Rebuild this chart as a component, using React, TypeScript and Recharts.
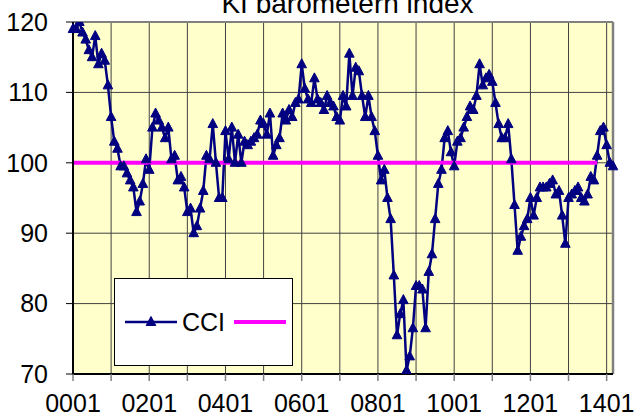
import React from 'react';
import {
  LineChart,
  Line,
  XAxis,
  YAxis,
  CartesianGrid,
  Legend,
  ReferenceLine,
} from 'recharts';

// CCI monthly values, one array per year
const CCI_2000 = [119, 119, 120, 118.5, 117.5, 116, 115, 118, 114, 115.5, 114.5, 111];
const CCI_2001 = [106.5, 103, 102, 99.5, 99.5, 98.5, 97.5, 96.5, 93, 94.5, 97, 100.5];
const CCI_2002 = [99, 105, 107, 106, 105, 103.5, 105, 100.5, 101, 97.5, 98, 96.5];
const CCI_2003 = [93, 93.5, 90, 91, 93.5, 96, 101, 100.5, 105.5, 100, 95, 95];
const CCI_2004 = [104.5, 100.5, 105, 100, 104, 100, 103, 102.5, 103, 103.5, 104, 106];
const CCI_2005 = [105.5, 104, 107, 101, 102.5, 103.5, 107, 106, 107.5, 106.5, 108.5, 109];
const CCI_2006 = [114, 110.5, 109, 108.5, 112, 109, 108.5, 107.5, 109.5, 108.5, 108, 106.5];
const CCI_2007 = [106, 109.5, 108, 115.5, 109.5, 113.5, 113, 109.5, 106.5, 109.5, 106.5, 104.5];
const CCI_2008 = [101, 97.5, 99, 95, 92, 84, 75.5, 78.5, 80.5, 70.5, 72.5, 76.5];
const CCI_2009 = [82.5, 82.5, 82, 76.5, 84.5, 87, 92, 97, 99, 103.5, 104.5, 101.5];
const CCI_2010 = [99.5, 103, 103.5, 105, 106.5, 108, 107.5, 109.5, 114, 111, 112, 112.5];
const CCI_2011 = [111.5, 108.5, 105.5, 103.5, 103.5, 105.5, 100.5, 94, 87.5, 89.5, 91, 92];
const CCI_2012 = [95, 92.5, 95, 96.5, 96.5, 96.5, 97, 97.5, 95.5, 96, 92.5, 88.5];
const CCI_2013 = [95, 95.5, 96, 96.5, 95, 94.5, 95.5, 98, 97.5, 101, 104.5, 105];
const CCI_2014 = [102.5, 100, 99.5];

const CCI = [
  ...CCI_2000, ...CCI_2001, ...CCI_2002, ...CCI_2003, ...CCI_2004,
  ...CCI_2005, ...CCI_2006, ...CCI_2007, ...CCI_2008, ...CCI_2009,
  ...CCI_2010, ...CCI_2011, ...CCI_2012, ...CCI_2013, ...CCI_2014,
];

// the 100 reference line stops at 1310
const REF_LEVEL = 100;
const REF_LAST = '1310';

const Y_TICKS = [70, 80, 90, 100, 110, 120];

const pad = (n: number) => String(n).padStart(2, '0');
const LABELS = CCI.map((_, i) => `${pad(Math.floor(i / 12))}${pad((i % 12) + 1)}`);
const YEAR_TICKS = LABELS.filter((l) => l.endsWith('01'));

const data = CCI.map((v, i) => ({
  label: LABELS[i],
  cci: v,
  ref: LABELS[i] <= REF_LAST ? REF_LEVEL : null,
}));

const SERIES_ORDER = ['cci', 'ref'];

const FONT = '"Liberation Sans", Arial, sans-serif';
const NAVY = '#000080';
const PINK = '#FF00FF';

function Triangle(props: any) {
  const { cx, cy, index } = props;
  if (cx == null || cy == null) return <g key={index} />;
  return (
    <polygon
      key={index}
      points={`${cx},${cy - 5.5} ${cx - 4.8},${cy + 3.5} ${cx + 4.8},${cy + 3.5}`}
      fill={NAVY}
      stroke={NAVY}
      strokeWidth={1}
    />
  );
}

function LegendBox({ payload }: any) {
  const items = [...(payload || [])].sort(
    (a: any, b: any) => SERIES_ORDER.indexOf(a.dataKey) - SERIES_ORDER.indexOf(b.dataKey)
  );
  return (
    <div
      style={{
        width: 179,
        height: 88,
        boxSizing: 'border-box',
        border: '1px solid #000',
        background: '#fff',
        display: 'flex',
        alignItems: 'center',
        paddingLeft: 9,
        fontFamily: FONT,
        fontSize: 25,
        color: '#000',
      }}
    >
      {items.map((p: any) => (
        <div key={p.dataKey} style={{ display: 'flex', alignItems: 'center' }}>
          <svg width={54} height={14} style={{ display: 'block' }}>
            <line x1={1} y1={7} x2={53} y2={7} stroke={p.color} strokeWidth={p.dataKey === 'cci' ? 2.5 : 4} />
            {p.dataKey === 'cci' && <Triangle cx={27} cy={7} />}
          </svg>
          {p.value ? <span style={{ marginLeft: 4, marginRight: 8 }}>{p.value}</span> : null}
        </div>
      ))}
    </div>
  );
}

export default function App() {
  return (
    <div style={{ position: 'relative', width: 634, height: 418, overflow: 'hidden', background: '#fff' }}>
      <style>{`body{margin:0}`}</style>
      <div
        style={{
          position: 'absolute',
          top: -10,
          left: 0,
          width: 695,
          textAlign: 'center',
          fontFamily: FONT,
          fontSize: 28,
          lineHeight: 1,
          color: '#000',
          whiteSpace: 'nowrap',
        }}
      >
        KI barometern index
      </div>
      <LineChart width={634} height={418} data={data} margin={{ top: 22, right: 21, bottom: 0, left: 0 }}>
        <CartesianGrid stroke="#404040" strokeWidth={1} fill="#FFFFCC" fillOpacity={1} />
        <XAxis
          dataKey="label"
          ticks={YEAR_TICKS}
          interval={0}
          height={44}
          tickSize={7}
          tickMargin={13}
          tickFormatter={(v: string) => (Number(v.slice(0, 2)) % 2 === 0 ? v : '')}
          tick={{ fontSize: 25, fill: '#000', fontFamily: FONT }}
          axisLine={{ stroke: '#000', strokeWidth: 2 }}
          tickLine={{ stroke: '#808080', strokeWidth: 1.5 }}
        />
        <YAxis
          domain={[70, 120]}
          ticks={Y_TICKS}
          interval={0}
          width={73}
          tickSize={7}
          tickMargin={18}
          tick={{ fontSize: 25, fill: '#000', fontFamily: FONT }}
          axisLine={{ stroke: '#000', strokeWidth: 2 }}
          tickLine={{ stroke: '#000', strokeWidth: 1 }}
          allowDataOverflow
        />
        <ReferenceLine y={120} stroke="#808080" strokeWidth={2} />
        <ReferenceLine x={LABELS[LABELS.length - 1]} stroke="#808080" strokeWidth={2.5} />
        <Line
          dataKey="cci"
          name="CCI"
          type="linear"
          stroke={NAVY}
          strokeWidth={2.5}
          dot={Triangle}
          activeDot={false}
          isAnimationActive={false}
        />
        <Line
          dataKey="ref"
          name=""
          type="linear"
          stroke={PINK}
          strokeWidth={4}
          dot={false}
          activeDot={false}
          isAnimationActive={false}
        />
        <Legend
          layout="horizontal"
          verticalAlign="middle"
          align="center"
          content={<LegendBox />}
          wrapperStyle={{ left: 114, top: 278, width: 179, height: 88 }}
        />
      </LineChart>
    </div>
  );
}
